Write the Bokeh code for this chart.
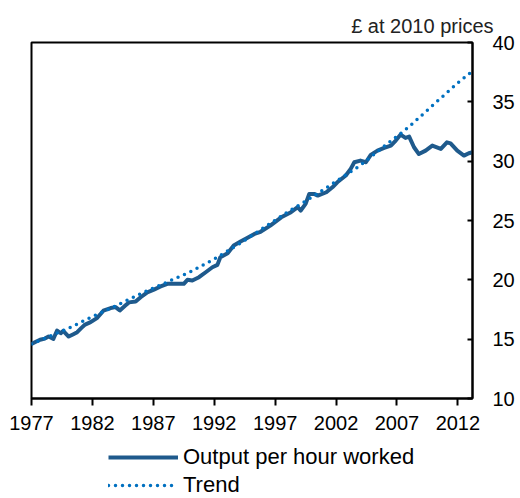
from bokeh.plotting import figure
from bokeh.layouts import column
from bokeh.models import Range1d, Legend, LegendItem, Title, FixedTicker
from bokeh.embed import file_html
from bokeh.resources import INLINE

# Output per hour worked (£ at 2010 prices)
years = [1977.0, 1977.4, 1977.7, 1978.1, 1978.4, 1978.8, 1979.1, 1979.4, 1979.6,
         1980.05, 1980.4, 1980.75, 1981.1, 1981.4, 1981.85, 1982.4, 1982.9, 1983.5,
         1983.9, 1984.25, 1984.7, 1985.0, 1985.55, 1985.96, 1986.5, 1987.05, 1987.6,
         1988.15, 1988.8, 1989.5, 1989.8, 1990.2, 1990.75, 1991.3, 1991.85, 1992.26,
         1992.5, 1993.1, 1993.6, 1994.2, 1994.7, 1995.3, 1995.8, 1996.6, 1997.5,
         1998.3, 1998.85, 1999.1, 1999.5, 1999.8, 2000.2, 2000.5, 2001.2, 2001.7,
         2002.1, 2002.8, 2003.2, 2003.5, 2004.0, 2004.45, 2004.85, 2005.4, 2005.95,
         2006.5, 2006.9, 2007.3, 2007.7, 2008.0, 2008.4, 2008.8, 2009.35, 2009.9,
         2010.6, 2011.1, 2011.4, 2011.95, 2012.5, 2012.9, 2013.2]
output = [14.6, 14.8, 14.95, 15.05, 15.22, 15.03, 15.73, 15.5, 15.7,
          15.22, 15.4, 15.59, 15.95, 16.23, 16.43, 16.8, 17.4, 17.62,
          17.7, 17.42, 17.83, 18.1, 18.17, 18.53, 18.95, 19.18, 19.44,
          19.66, 19.66, 19.66, 20.0, 19.94, 20.22, 20.64, 21.06, 21.26,
          21.9, 22.24, 22.89, 23.25, 23.53, 23.87, 24.05, 24.57, 25.27,
          25.7, 26.12, 25.84, 26.4, 27.24, 27.24, 27.1, 27.38, 27.8,
          28.22, 28.79, 29.35, 29.91, 30.05, 29.91, 30.53, 30.89, 31.12,
          31.31, 31.74, 32.24, 31.96, 32.07, 31.17, 30.6, 30.89, 31.31,
          31.03, 31.59, 31.5, 30.89, 30.47, 30.67, 30.75]

# Trend
trend_years = [1977, 1980, 1982, 1984, 1986, 1988, 1990, 1992, 1994, 1996, 1998,
               2000, 2002, 2004, 2006, 2008, 2010, 2012, 2013.2]
trend = [14.6, 15.9, 16.9, 17.85, 18.85, 19.75, 20.65, 21.75, 23.0, 24.35, 25.7,
         26.95, 28.3, 29.65, 31.3, 32.9, 34.77, 36.6, 37.6]

x_ticks = [1977, 1982, 1987, 1992, 1997, 2002, 2007, 2012]
y_ticks = [10, 15, 20, 25, 30, 35, 40]
series_names = ["Output per hour worked", "Trend"]
unit_label = "£ at 2010 prices"

FONT = "Liberation Sans"
OUT_COLOR = "#1F5A8C"
TREND_COLOR = "#0070C0"

p = figure(width=520, height=440, output_backend="svg", toolbar_location=None,
           x_range=Range1d(1977, 2013.2), y_range=Range1d(10, 40),
           y_axis_location="right",
           min_border_left=31, min_border_right=48, min_border_top=42,
           min_border_bottom=42)
p.grid.visible = False
p.outline_line_color = "black"
p.outline_line_width = 2

for ax in (p.xaxis[0], p.yaxis[0]):
    ax.axis_line_color = "black"
    ax.axis_line_width = 2
    ax.major_tick_line_color = "black"
    ax.major_tick_line_width = 2
    ax.minor_tick_line_color = None
    ax.major_label_text_font = FONT
    ax.major_label_text_font_size = "20px"
    ax.major_label_text_color = "black"

p.xaxis.ticker = FixedTicker(ticks=x_ticks)
p.xaxis.major_tick_in = 0
p.xaxis.major_tick_out = 7
p.xaxis.major_label_standoff = 10

p.yaxis.ticker = FixedTicker(ticks=y_ticks)
p.yaxis.major_tick_in = 5
p.yaxis.major_tick_out = 0
p.yaxis.major_label_standoff = 20

p.line(years, output, line_color=OUT_COLOR, line_width=4, line_join="round")
p.line(trend_years, trend, line_color=TREND_COLOR, line_width=3.5,
       line_dash="0 7", line_cap="round")

t = Title(text=unit_label, align="right", offset=-21, standoff=8,
          vertical_align="top",
          text_font=FONT, text_font_size="20px", text_font_style="normal",
          text_color="#222222")
p.add_layout(t, "above")

# Legend strip below the chart (its lines lie outside its ranges; only the legend shows)
leg = figure(width=520, height=58, output_backend="svg", toolbar_location=None,
             x_axis_type=None, y_axis_type=None, min_border=0,
             x_range=Range1d(0, 1), y_range=Range1d(0, 1))
leg.outline_line_color = None
l1 = leg.line(years, output, line_color=OUT_COLOR, line_width=4)
l2 = leg.line(trend_years, trend, line_color=TREND_COLOR, line_width=3.5,
              line_dash="0 7", line_cap="round")
legend = Legend(items=[LegendItem(label=series_names[0], renderers=[l1]),
                       LegendItem(label=series_names[1], renderers=[l2])],
                location=(77, 0), orientation="vertical",
                glyph_width=70, glyph_height=20, label_height=20,
                label_standoff=5, spacing=2, padding=0, margin=0,
                border_line_color=None, background_fill_alpha=0,
                label_text_font=FONT, label_text_font_size="22px",
                label_text_color="black")
leg.add_layout(legend, "center")

open("out.html", "w").write(file_html(column(p, leg, spacing=0), INLINE))
